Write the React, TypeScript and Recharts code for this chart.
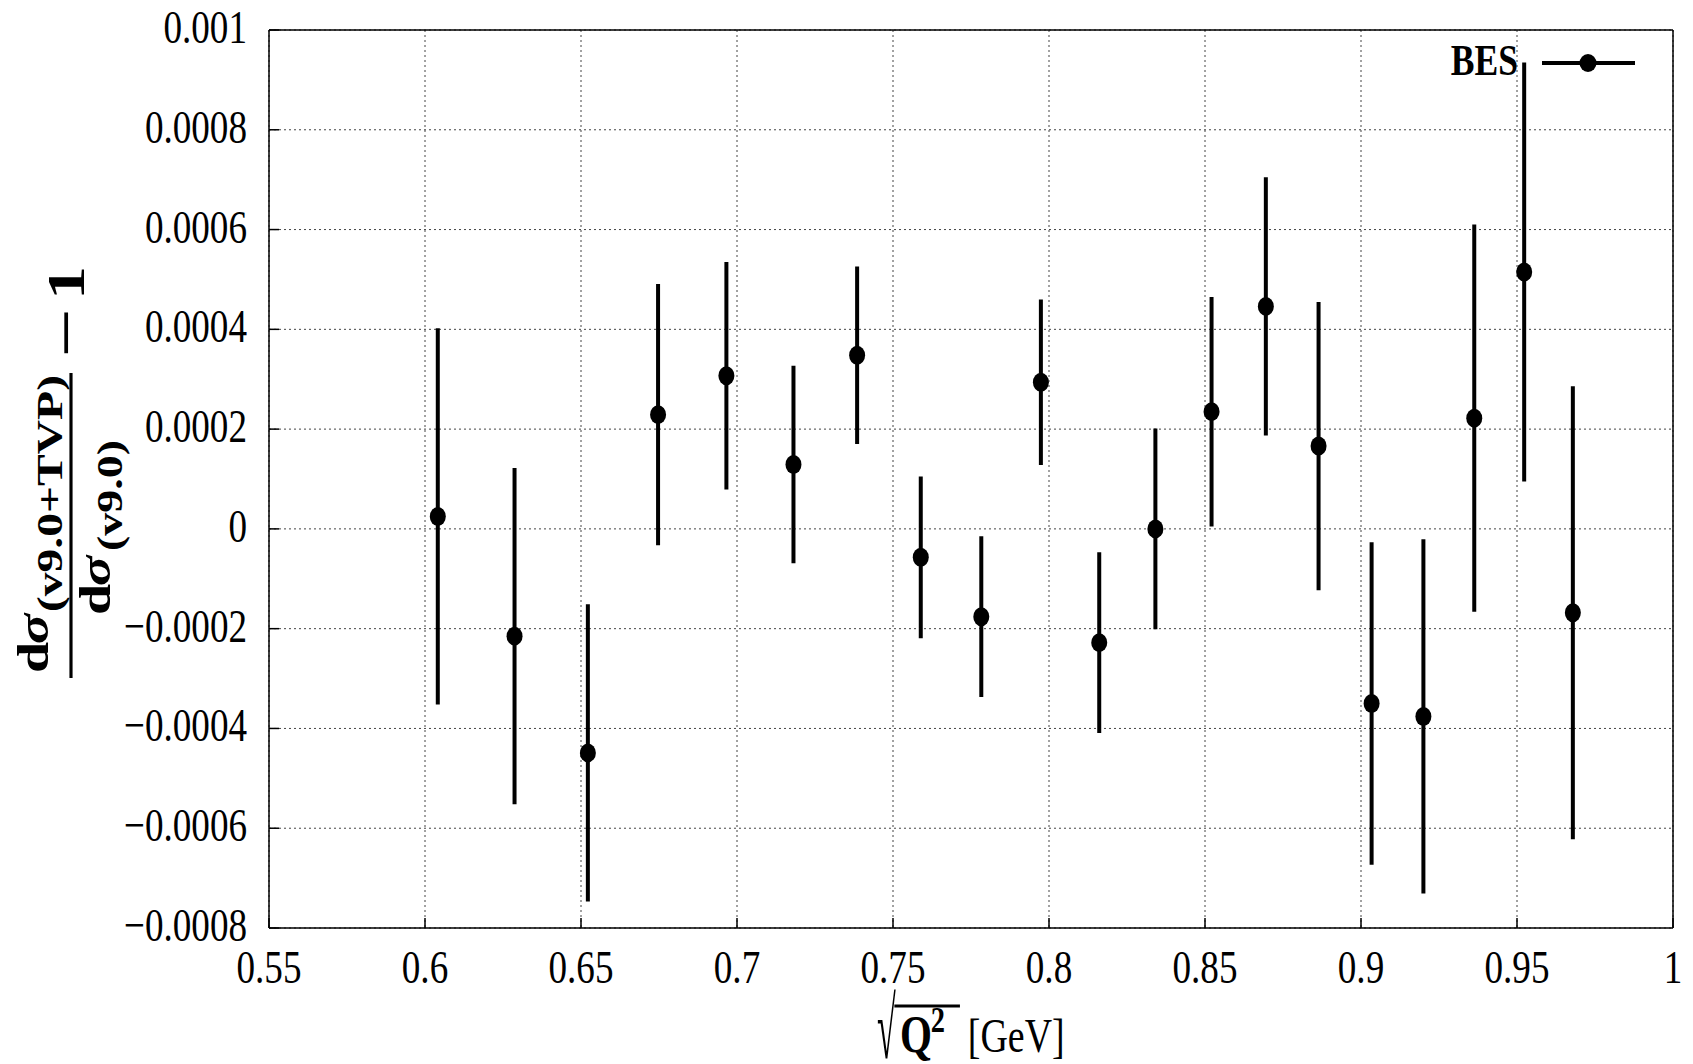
import React from 'react';
import {
  ScatterChart,
  Scatter,
  XAxis,
  YAxis,
  CartesianGrid,
  ErrorBar,
  Legend
} from 'recharts';

// BES points: sqrt(Q^2) [GeV], relative change, error
const energies = [
  0.6041, 0.6287, 0.6522, 0.6747, 0.6966, 0.7181, 0.7385, 0.7589, 0.7783, 0.7974,
  0.8161, 0.8341, 0.8521, 0.8695, 0.8864, 0.9034, 0.92, 0.9363, 0.9523, 0.9679
];
const ratios = [
  0.000025, -0.000215, -0.000449, 0.000229, 0.000307, 0.000129, 0.000348, -0.000057, -0.000176, 0.000294,
  -0.000228, 0.0, 0.000235, 0.000446, 0.000166, -0.00035, -0.000376, 0.000222, 0.000515, -0.000168
];
const errors = [
  0.000377, 0.000337, 0.000298, 0.000262, 0.000228, 0.000198, 0.000178, 0.000162, 0.000161, 0.000166,
  0.000181, 0.000201, 0.00023, 0.000259, 0.000289, 0.000323, 0.000355, 0.000388, 0.00042, 0.000454
];

const xTicks = [0.55, 0.6, 0.65, 0.7, 0.75, 0.8, 0.85, 0.9, 0.95, 1];
const xTickLabels = ['0.55', '0.6', '0.65', '0.7', '0.75', '0.8', '0.85', '0.9', '0.95', '1'];
const yTicks = [-0.0008, -0.0006, -0.0004, -0.0002, 0, 0.0002, 0.0004, 0.0006, 0.0008, 0.001];
const yTickLabels = ['−0.0008', '−0.0006', '−0.0004', '−0.0002', '0', '0.0002', '0.0004', '0.0006', '0.0008', '0.001'];

const data = energies.map((x, i) => ({ x, y: ratios[i], err: errors[i] }));

const FONT = '"Liberation Serif", "Times New Roman", serif';
const SX = 0.79; // the original picture is squeezed horizontally

function YTick(props: any) {
  const { x, y, payload } = props;
  const label = yTickLabels[yTicks.indexOf(payload.value)];
  return (
    <text
      transform={`translate(${x},${y}) scale(${SX},1)`}
      textAnchor="end"
      dy={13}
      fontSize={47}
      fontFamily={FONT}
      fill="#000"
    >
      {label}
    </text>
  );
}

function XTick(props: any) {
  const { x, y, payload } = props;
  const label = xTickLabels[xTicks.indexOf(payload.value)];
  return (
    <text
      transform={`translate(${x},${y}) scale(${SX},1)`}
      textAnchor="middle"
      dy={55}
      fontSize={47}
      fontFamily={FONT}
      fill="#000"
    >
      {label}
    </text>
  );
}

function YLabel() {
  return (
    <g transform="translate(63,670) rotate(-90) scale(1,0.79)" fontFamily={FONT} fill="#000" fontWeight="bold">
      {/* numerator */}
      <text x={5} y={-29} fontSize={56}>d</text>
      <text x={34} y={-29} fontSize={56} fontStyle="italic">σ</text>
      <text x={66} y={-11} fontSize={44} textLength={237} lengthAdjust="spacingAndGlyphs">(v9.0+TVP)</text>
      <line x1={0} x2={305} y1={0} y2={0} stroke="#000" strokeWidth={4} />
      {/* denominator */}
      <text x={63} y={49} fontSize={56}>d</text>
      <text x={92} y={49} fontSize={56} fontStyle="italic">σ</text>
      <text x={127} y={65} fontSize={44} textLength={111} lengthAdjust="spacingAndGlyphs">(v9.0)</text>
      {/* minus one */}
      <text x={320} y={17} fontSize={68} textLength={50} lengthAdjust="spacingAndGlyphs">−</text>
      <text x={378} y={17} fontSize={68}>1</text>
    </g>
  );
}

function XLabel() {
  return (
    <g transform={`translate(963,1044) scale(${SX},1)`} fontFamily={FONT} fill="#000">
      <text transform="translate(-119,6) scale(0.8,1.6)" fontSize={54}>√</text>
      <line x1={-97} x2={-14} y1={-46} y2={-46} stroke="#000" strokeWidth={3} />
      <text x={-90} y={0} fontSize={52} fontWeight="bold">Q</text>
      <text x={-51} y={-20} fontSize={36} fontWeight="bold">2</text>
      <text x={-4} y={0} fontSize={48}>[GeV]</text>
    </g>
  );
}

function BesLegend() {
  return (
    <svg width={260} height={60} style={{ overflow: 'visible' }}>
      <text
        transform={`translate(80,47) scale(${SX},1)`}
        textAnchor="end"
        fontSize={45}
        fontWeight="bold"
        fontFamily={FONT}
        fill="#000"
      >
        BES
      </text>
      <line x1={104} x2={197} y1={35} y2={35} stroke="#000" strokeWidth={4} />
      <ellipse cx={150} cy={35} rx={8.5} ry={9} fill="#000" />
    </svg>
  );
}

const axisLine = { stroke: '#000', strokeWidth: 1.5 };
const tickLine = { stroke: '#000', strokeWidth: 1.5 };

export default function App() {
  return (
    <div style={{ width: 1685, height: 1054 }}>
      <ScatterChart width={1685} height={1054} margin={{ top: 21, right: 19, bottom: 74, left: 0 }}>
        <CartesianGrid xAxisId="bottom" yAxisId="left" stroke="#444" strokeDasharray="2 3" />
        <XAxis
          xAxisId="bottom"
          dataKey="x"
          type="number"
          domain={[0.55, 1]}
          ticks={xTicks}
          height={60}
          axisLine={axisLine}
          tickLine={tickLine}
          tickSize={-10}
          tickMargin={10}
          tick={<XTick />}
          label={<XLabel />}
          allowDataOverflow
        />
        <XAxis
          xAxisId="top"
          orientation="top"
          type="number"
          domain={[0.55, 1]}
          ticks={xTicks}
          height={1}
          axisLine={axisLine}
          tickLine={tickLine}
          tickSize={-10}
          tick={false}
          allowDataOverflow
        />
        <YAxis
          yAxisId="left"
          dataKey="y"
          type="number"
          domain={[-0.0008, 0.001]}
          ticks={yTicks}
          width={261}
          axisLine={axisLine}
          tickLine={tickLine}
          tickSize={-10}
          tickMargin={32}
          tick={<YTick />}
          label={<YLabel />}
          allowDataOverflow
        />
        <YAxis
          yAxisId="right"
          orientation="right"
          type="number"
          domain={[-0.0008, 0.001]}
          ticks={yTicks}
          width={1}
          axisLine={axisLine}
          tickLine={tickLine}
          tickSize={-10}
          tick={false}
          allowDataOverflow
        />
        <Legend
          layout="vertical"
          align="center"
          verticalAlign="middle"
          wrapperStyle={{ position: 'absolute', left: 1430, top: 20, width: 260, height: 60 }}
          content={() => <BesLegend />}
        />
        <Scatter
          name="BES"
          data={data}
          xAxisId="bottom"
          yAxisId="left"
          fill="#000"
          isAnimationActive={false}
          shape={(p: any) => <ellipse cx={p.cx} cy={p.cy} rx={8} ry={9.5} fill="#000" />}
        >
          <ErrorBar dataKey="err" direction="y" width={0} stroke="#000" strokeWidth={4} isAnimationActive={false} />
        </Scatter>
      </ScatterChart>
    </div>
  );
}
